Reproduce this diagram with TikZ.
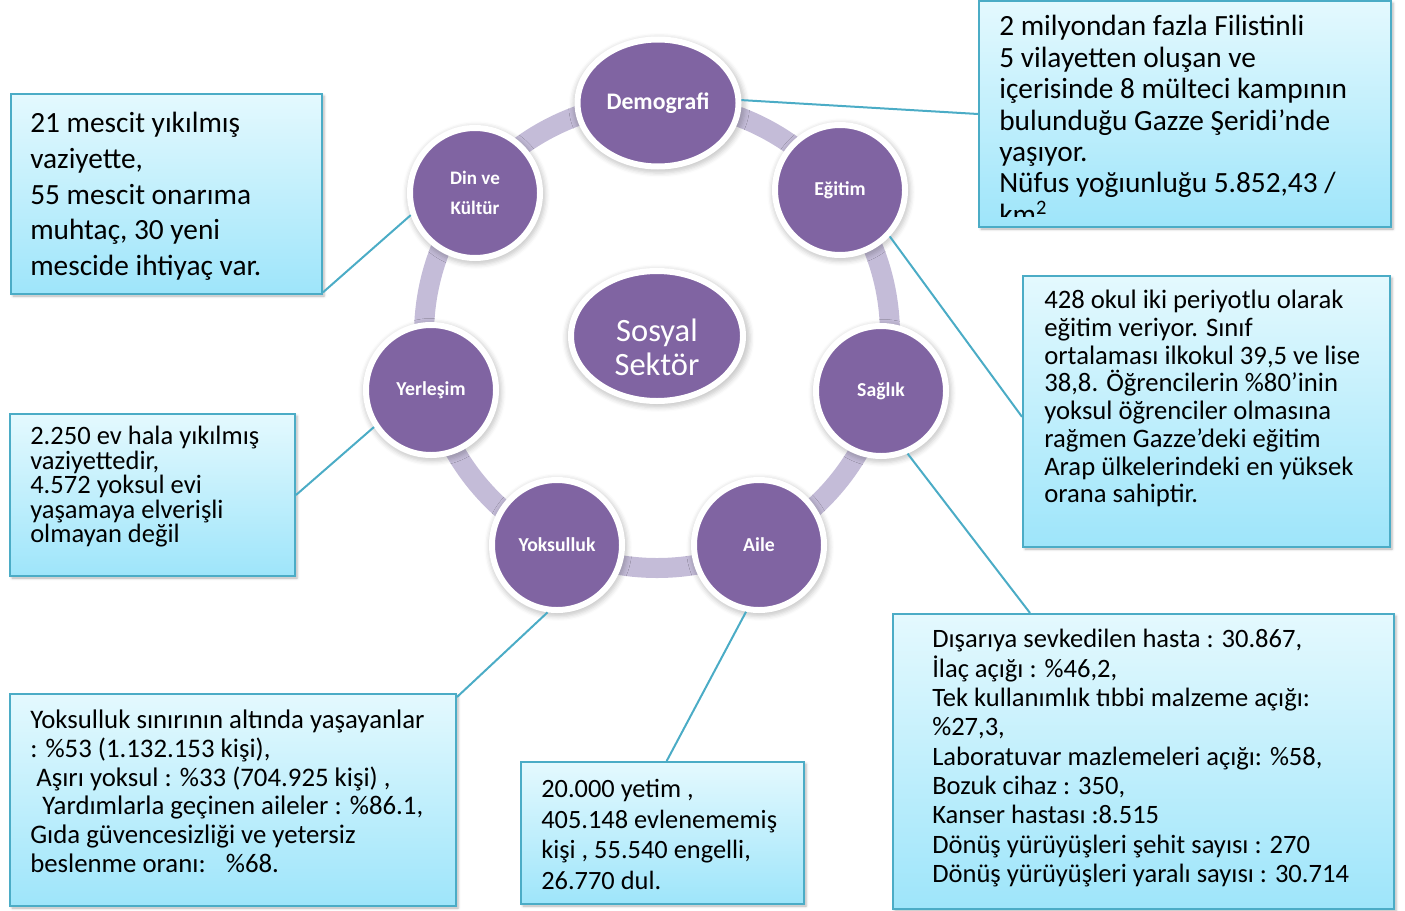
\documentclass[tikz,border=0pt]{standalone}
\usepackage{fontspec}
\setmainfont{Carlito}
\usetikzlibrary{shapes.geometric,shadows.blur,positioning}
\definecolor{sektorpurple}{RGB}{128,100,162}
\definecolor{ringlilac}{RGB}{196,188,216}
\definecolor{boxline}{RGB}{75,172,198}
\definecolor{boxtop}{RGB}{228,249,254}
\definecolor{boxbottom}{RGB}{158,229,250}
\tikzset{
  sector/.style={circle, fill=sektorpurple, draw=white, line width=4.5pt, inner sep=0pt,
    minimum size=97.5pt, text=white, align=center, font={\fontsize{14.8}{22}\selectfont\bfseries},
    blur shadow={shadow xshift=0.8pt, shadow yshift=-1.5pt, shadow scale=1.07,
      shadow opacity=20, shadow blur radius=3pt}},
  infobox/.style={rectangle, draw=boxline, line width=1.5pt, top color=boxtop, bottom color=boxbottom,
    anchor=north west, inner sep=0pt,
    blur shadow={shadow xshift=1.5pt, shadow yshift=-1.5pt, shadow opacity=30, shadow blur radius=2pt}},
  infotext/.style={anchor=north west, align=left, inner sep=0pt, text=black},
  link/.style={draw=boxline, line width=1.5pt},
}
\begin{document}
\begin{tikzpicture}[x=0.75pt, y=-0.75pt]
\useasboundingbox (0,0) rectangle (1405,910);

% Ring
\draw[ringlilac, line width=15pt] (657,335) circle [radius=174.75pt];

% Center and sectors
\node (sosyal) [sector, ellipse, minimum width=129pt, minimum height=97.5pt,
  font={\fontsize{24.4}{26}\selectfont}] at (657,336) {\rule{0pt}{34pt}Sosyal\\Sektör};
\node (demografi) [sector, ellipse, minimum width=120.75pt, minimum height=95.25pt,
  font={\fontsize{17.8}{22}\selectfont\bfseries}] at (658,103) {Demografi};
\node (egitim) [sector] at (840,190) {Eğitim};
\node (saglik) [sector] at (881,391) {Sağlık};
\node (aile) [sector] at (759,545) {Aile};
\node (yoksulluk) [sector] at (557,545) {Yoksulluk};
\node (yerlesim) [sector] at (431,390) {Yerleşim};
\node (din) [sector, font={\fontsize{14.3}{22.5}\selectfont\bfseries}] at (475,193) {Din ve\\Kültür};

% Boxes
\node (dinbox) [infobox, minimum width=233.25pt, minimum height=150pt] at (10,93) {};
\node (demobox) [infobox, minimum width=309pt, minimum height=169.5pt] at (978,0) {};
\node (egitimbox) [infobox, minimum width=275.25pt, minimum height=203.25pt] at (1022,275) {};
\node (yerlesimbox) [infobox, minimum width=213.75pt, minimum height=121.5pt] at (9,413) {};
\node (saglikbox) [infobox, minimum width=375.75pt, minimum height=221.25pt] at (892,613) {};
\node (yoksulbox) [infobox, minimum width=334.5pt, minimum height=159pt] at (9,693) {};
\node (ailebox) [infobox, minimum width=212.25pt, minimum height=106.5pt] at (520,761) {};

% Texts
\node (dintext) [infotext, font={\fontsize{22}{26.8}\selectfont}] at (30,112)
  {21 mescit yıkılmış\\vaziyette,\\55 mescit onarıma\\muhtaç, 30 yeni\\mescide ihtiyaç var.};
\begin{scope}
  \clip (978,0) rectangle (1390,216);
  \node (demotext) [infotext, font={\fontsize{22}{23.6}\selectfont}] at (999,15)
    {2 milyondan fazla Filistinli\\5 vilayetten oluşan ve\\içerisinde 8 mülteci kampının\\bulunduğu Gazze Şeridi'nde\\yaşıyor.\\Nüfus yoğıunluğu 5.852,43 /\\km\textsuperscript{2}};
\end{scope}
\node (egitimtext) [infotext, font={\fontsize{20}{20.8}\selectfont}] at (1044,290)
  {428 okul iki periyotlu olarak\\eğitim veriyor. Sınıf\\ortalaması ilkokul 39,5 ve lise\\38,8. Öğrencilerin \%80’inin\\yoksul öğrenciler olmasına\\rağmen Gazze’deki eğitim\\Arap ülkelerindeki en yüksek\\orana sahiptir.};
\node (yerlesimtext) [infotext, font={\fontsize{19.9}{18.4}\selectfont}] at (30,426)
  {2.250 ev hala yıkılmış\\vaziyettedir,\\4.572 yoksul evi\\yaşamaya elverişli\\olmayan değil};
\node (sagliktext) [infotext, font={\fontsize{19.9}{22}\selectfont}] at (932,629)
  {Dışarıya sevkedilen hasta : 30.867,\\İlaç açığı : \%46,2,\\Tek kullanımlık tıbbi malzeme açığı:\\\%27,3,\\Laboratuvar mazlemeleri açığı: \%58,\\Bozuk cihaz : 350,\\Kanser hastası :8.515\\Dönüş yürüyüşleri şehit sayısı : 270\\Dönüş yürüyüşleri yaralı sayısı : 30.714};
\node (yoksultext) [infotext, font={\fontsize{20.1}{21.5}\selectfont}] at (30,710)
  {Yoksulluk sınırının altında yaşayanlar\\: \%53 (1.132.153 kişi),\\\ Aşırı yoksul : \%33 (704.925 kişi) ,\\\ \ Yardımlarla geçinen aileler : \%86.1,\\Gıda güvencesizliği ve yetersiz\\beslenme oranı: \ \ \%68.};
\node (ailetext) [infotext, font={\fontsize{19.8}{23}\selectfont}] at (541,779)
  {20.000 yetim ,\\405.148 evlenememiş\\kişi , 55.540 engelli,\\26.770 dul.};

% Links
\draw[link] (demografi.2) -- (demobox.west);
\draw[link] (egitim.-43) -- ([yshift=-4pt]egitimbox.west);
\draw[link] (saglik.-67) -- ([xshift=103.5pt]saglikbox.north west);
\draw[link] (aile.-101) -- ([xshift=110pt]ailebox.north west);
\draw[link] (yoksulluk.-98) -- ([yshift=-3pt]yoksulbox.north east);
\draw[link] (yerlesim.213) -- (yerlesimbox.east);
\draw[link] (din.199) -- ([yshift=2pt]dinbox.south east);
\end{tikzpicture}
\end{document}
